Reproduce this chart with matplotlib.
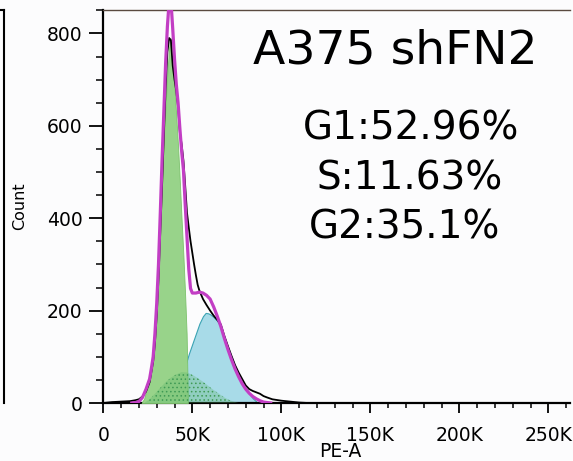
import matplotlib
matplotlib.use("Agg")
import matplotlib.pyplot as plt
from matplotlib.lines import Line2D
from matplotlib.ticker import MultipleLocator, FixedLocator, FixedFormatter

plt.rcParams["font.family"] = ["DejaVu Sans"]
plt.rcParams["hatch.linewidth"] = 0.6

# PE-A channel in thousands
# G1 model component
g1_k = [21.5, 23, 25, 26, 27, 28, 29, 30, 31, 32, 33, 34, 35, 36, 37, 37.7,
        38.3, 39, 40, 41, 42, 43, 44, 45, 46, 46.8, 47.3, 47.5]
g1_count = [0, 10, 40, 60, 85, 115, 165, 230, 310, 400, 490, 575, 645, 715, 770, 790,
            785, 745, 680, 620, 555, 478, 395, 318, 230, 150, 50, 0]

# G2 model component
g2_k = [38, 40, 42, 44, 46, 48, 50, 52, 54, 56, 57.5, 59, 60, 62, 64, 66, 68, 70,
        72, 74, 76, 78, 80, 82, 84, 86, 88]
g2_count = [0, 15, 32, 55, 80, 106, 128, 150, 172, 188, 195, 194, 192, 186, 178, 165, 143, 121,
            100, 80, 62, 46, 32, 20, 10, 3, 0]

# S-phase model component
s_k = [23, 26, 29, 32, 35, 38, 41, 44, 47, 50, 53, 56, 59, 62, 65, 68, 71, 74, 76]
s_count = [0, 8, 20, 33, 45, 55, 62, 67, 66, 61, 54, 46, 37, 28, 20, 12, 6, 2, 0]

# Summed model fit
fit_k = [16, 18, 20, 22, 24, 26, 27, 28, 29, 30, 31, 32, 33, 34, 35, 36, 37, 38, 39, 40,
         41, 42, 43, 44, 45, 46, 47, 48, 49, 50, 52, 54, 56, 58, 60, 62, 64, 66, 68, 70,
         72, 74, 76, 78, 80, 82, 84, 86, 88, 90, 92, 94]
fit_count = [0, 1, 3, 12, 30, 52, 75, 100, 150, 215, 300, 410, 525, 630, 735, 815, 870, 870, 810, 745,
             690, 650, 595, 545, 505, 430, 360, 290, 248, 238, 238, 240, 238, 233, 225, 208, 188, 166, 140, 116,
             94, 74, 57, 42, 30, 21, 14, 9, 5, 2, 1, 0]

# Measured histogram
data_k = [0, 5, 10, 15, 18, 20, 22, 24, 26, 28, 29, 30, 31, 32, 33, 34, 35, 36, 37, 38,
          39, 40, 41, 42, 43, 44, 45, 46, 47, 48, 49, 50, 51, 52, 53, 54, 56, 58, 60, 62,
          64, 66, 68, 70, 72, 74, 76, 78, 80, 82, 84, 86, 88, 90, 92, 95, 100, 105, 110, 115, 262]
data_count = [0, 2, 3, 4, 6, 8, 14, 25, 45, 90, 130, 190, 270, 370, 470, 580, 680, 760, 790, 785,
              730, 700, 675, 640, 585, 560, 525, 470, 412, 380, 350, 325, 300, 277, 256, 243, 225, 212, 200, 189,
              180, 170, 145, 123, 102, 82, 66, 52, 38, 30, 26, 23, 20, 15, 12, 8, 5, 3, 1, 0, 0]

x_ticks = [0, 50, 100, 150, 200, 250]
x_tick_labels = ["0", "50K", "100K", "150K", "200K", "250K"]
y_ticks = [0, 200, 400, 600, 800]

sample_name = "A375 shFN2"
phase_labels = ["G1:52.96%", "S:11.63%", "G2:35.1%"]

W, H = 573, 461
fig = plt.figure(figsize=(W / 100, H / 100), dpi=100)
fig.patch.set_facecolor("#fcfcfd")

ax = fig.add_axes([103.3 / W, 58 / H, (570 - 103.3) / W, (403 - 10.3) / H])
ax.set_facecolor("#fcfcfd")

ax.fill_between(g2_k, g2_count, 0, facecolor="#a8dbe8", edgecolor="#3aa3b3",
                linewidth=0.8, zorder=2)
ax.fill_between(g1_k, g1_count, 0, facecolor="#98d38a", edgecolor="#7cc26c",
                linewidth=0.6, zorder=3)
ax.fill_between(s_k, s_count, 0, facecolor=(0.35, 0.70, 0.40, 0.30),
                edgecolor="#3f9a55", hatch="....", linewidth=0, zorder=4)
ax.plot(data_k, data_count, color="black", linewidth=1.3, zorder=5)
ax.plot(fit_k, fit_count, color="#c23ec4", linewidth=2.3, zorder=6,
        solid_joinstyle="round")

ax.set_xlim(0, 262.144)
ax.set_ylim(0, 850)

ax.xaxis.set_major_locator(FixedLocator(x_ticks))
ax.xaxis.set_major_formatter(FixedFormatter(x_tick_labels))
ax.xaxis.set_minor_locator(MultipleLocator(10))
ax.yaxis.set_major_locator(FixedLocator(y_ticks))
ax.yaxis.set_minor_locator(MultipleLocator(50))

ax.tick_params(axis="x", which="major", direction="out", length=7.5, width=1.3,
               labelsize=13.5, pad=9, colors="black")
ax.tick_params(axis="x", which="minor", direction="out", length=3.8, width=1.1)
ax.tick_params(axis="y", which="major", direction="out", length=10, width=1.3,
               labelsize=13.5, pad=5, colors="black")
ax.tick_params(axis="y", which="minor", direction="out", length=5, width=1.1)

ax.spines["right"].set_visible(False)
ax.spines["left"].set_linewidth(1.6)
ax.spines["bottom"].set_linewidth(1.6)
ax.spines["top"].set_linewidth(1.0)
ax.spines["top"].set_color("#5a4a40")

fig.text(20 / W, 1 - 206 / H, "Count", rotation=90, ha="center", va="center",
         fontsize=11.5)
fig.text(340 / W, 1 - 456.5 / H, "PE-A", ha="center", va="baseline", fontsize=13.5)

fig.text(395 / W, 1 - 63.3 / H, sample_name, ha="center", va="baseline", fontsize=34)
for label, cx, base in zip(phase_labels, [411, 410, 405], [140, 190, 238.3]):
    fig.text(cx / W, 1 - base / H, label, ha="center", va="baseline", fontsize=28)

# edge of the neighbouring panel
fig.add_artist(Line2D([4 / W, 4 / W], [58 / H, 1 - 10.3 / H], color="black",
                      linewidth=1.5, transform=fig.transFigure))
fig.add_artist(Line2D([0, 4 / W], [1 - 10.3 / H, 1 - 10.3 / H], color="black",
                      linewidth=1.5, transform=fig.transFigure))

fig.savefig("out.png", dpi=100, facecolor=fig.get_facecolor())
